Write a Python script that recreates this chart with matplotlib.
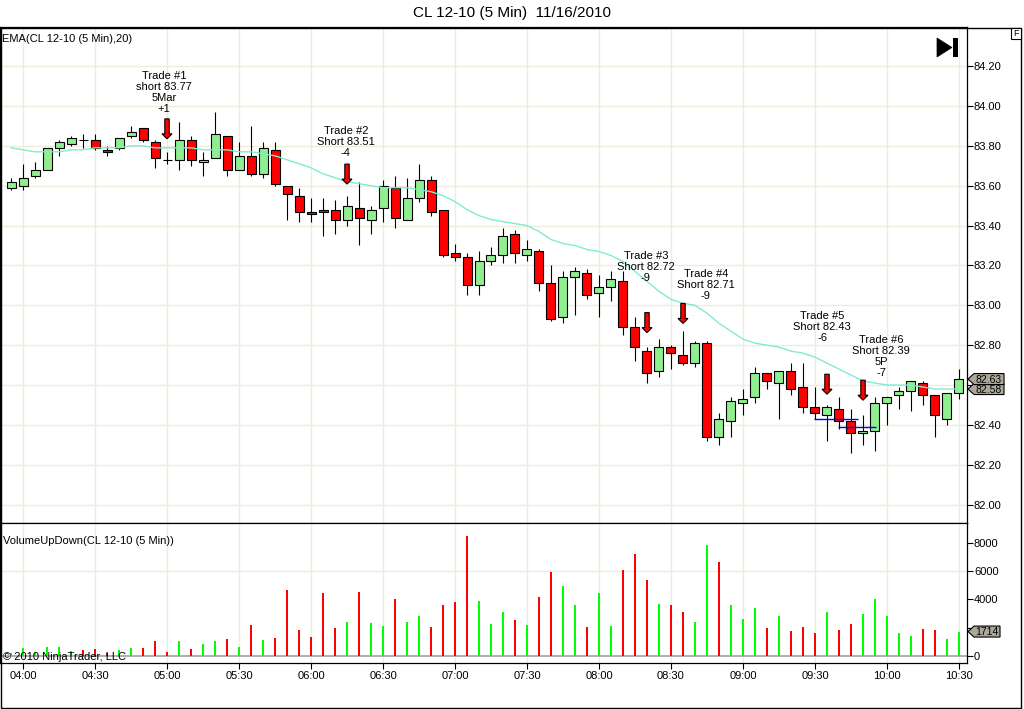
#!/usr/bin/env python3
"""CL 12-10 5 minute chart for 11/16/2010, NinjaTrader style: candles, EMA(20), volume up/down."""

import numpy as np
import matplotlib
matplotlib.use("Agg")
import matplotlib.pyplot as plt
from matplotlib.patches import Polygon, Rectangle
from matplotlib.transforms import IdentityTransform

# bar 0 is the 03:55 bar, one bar every 5 minutes up to 10:30
opens = [83.59, 83.60, 83.65, 83.68, 83.79, 83.81, 83.83, 83.83, 83.78, 83.79,
         83.85, 83.89, 83.82, 83.73, 83.73, 83.83, 83.72, 83.74, 83.85, 83.68,
         83.75, 83.66, 83.78, 83.60, 83.55, 83.47, 83.48, 83.48, 83.43, 83.49,
         83.43, 83.49, 83.59, 83.43, 83.54, 83.63, 83.48, 83.26, 83.24, 83.10,
         83.22, 83.25, 83.36, 83.25, 83.27, 83.11, 82.94, 83.14, 83.16, 83.06,
         83.09, 83.12, 82.89, 82.77, 82.67, 82.79, 82.75, 82.71, 82.81, 82.34,
         82.42, 82.51, 82.54, 82.66, 82.61, 82.67, 82.59, 82.49, 82.45, 82.48,
         82.42, 82.36, 82.37, 82.51, 82.55, 82.57, 82.61, 82.55, 82.43, 82.56]
highs = [83.64, 83.71, 83.72, 83.79, 83.83, 83.85, 83.86, 83.86, 83.80, 83.84,
         83.90, 83.89, 83.83, 83.77, 83.92, 83.85, 83.77, 83.97, 83.85, 83.82,
         83.90, 83.82, 83.82, 83.60, 83.59, 83.54, 83.54, 83.53, 83.55, 83.62,
         83.50, 83.63, 83.65, 83.64, 83.71, 83.65, 83.48, 83.31, 83.26, 83.27,
         83.29, 83.39, 83.38, 83.33, 83.28, 83.20, 83.17, 83.19, 83.18, 83.15,
         83.17, 83.17, 82.94, 82.79, 82.83, 82.80, 82.87, 82.82, 82.82, 82.46,
         82.54, 82.58, 82.69, 82.66, 82.67, 82.71, 82.71, 82.59, 82.50, 82.54,
         82.48, 82.45, 82.54, 82.54, 82.59, 82.62, 82.62, 82.55, 82.56, 82.68]
lows = [83.58, 83.58, 83.64, 83.68, 83.75, 83.80, 83.79, 83.78, 83.75, 83.78,
        83.84, 83.82, 83.69, 83.71, 83.68, 83.70, 83.65, 83.74, 83.65, 83.68,
        83.65, 83.64, 83.60, 83.43, 83.42, 83.42, 83.35, 83.36, 83.40, 83.30,
        83.36, 83.42, 83.39, 83.43, 83.52, 83.45, 83.24, 83.22, 83.05, 83.05,
        83.20, 83.21, 83.21, 83.22, 83.07, 82.92, 82.91, 82.95, 83.03, 82.94,
        83.02, 82.85, 82.72, 82.61, 82.64, 82.68, 82.70, 82.69, 82.32, 82.30,
        82.34, 82.45, 82.51, 82.58, 82.43, 82.55, 82.46, 82.43, 82.32, 82.38,
        82.26, 82.30, 82.27, 82.40, 82.48, 82.47, 82.50, 82.34, 82.40, 82.53]
closes = [83.62, 83.64, 83.68, 83.79, 83.82, 83.84, 83.83, 83.79, 83.77, 83.84,
          83.87, 83.83, 83.74, 83.73, 83.83, 83.73, 83.73, 83.86, 83.68, 83.75,
          83.66, 83.79, 83.61, 83.56, 83.47, 83.46, 83.47, 83.43, 83.50, 83.44,
          83.48, 83.60, 83.44, 83.54, 83.63, 83.47, 83.25, 83.24, 83.10, 83.22,
          83.25, 83.35, 83.26, 83.28, 83.11, 82.93, 83.14, 83.17, 83.05, 83.09,
          83.13, 82.89, 82.79, 82.66, 82.79, 82.76, 82.71, 82.81, 82.34, 82.43,
          82.52, 82.53, 82.66, 82.62, 82.67, 82.58, 82.49, 82.46, 82.49, 82.42,
          82.36, 82.37, 82.51, 82.54, 82.57, 82.62, 82.55, 82.45, 82.56, 82.63]
ema20 = [83.79, 83.78, 83.77, 83.77, 83.77, 83.78, 83.78, 83.79, 83.79, 83.79,
         83.80, 83.80, 83.79, 83.79, 83.79, 83.79, 83.78, 83.78, 83.78, 83.77,
         83.77, 83.76, 83.75, 83.73, 83.71, 83.69, 83.66, 83.64, 83.62, 83.61,
         83.60, 83.59, 83.59, 83.59, 83.58, 83.57, 83.55, 83.52, 83.48, 83.45,
         83.43, 83.42, 83.41, 83.40, 83.37, 83.33, 83.31, 83.30, 83.28, 83.27,
         83.25, 83.22, 83.17, 83.12, 83.07, 83.03, 83.01, 83.00, 82.96, 82.91,
         82.87, 82.83, 82.81, 82.80, 82.79, 82.77, 82.76, 82.74, 82.71, 82.68,
         82.65, 82.62, 82.61, 82.60, 82.60, 82.60, 82.59, 82.58, 82.58, 82.58]
volumes = [190, 540, 230, 610, 610, 330, 400, 470, 190, 400,
           540, 540, 1040, 260, 1040, 470, 830, 1040, 1180, 610,
           2180, 1110, 1250, 4660, 1820, 1320, 4450, 1960, 2390, 4520,
           2320, 2100, 4020, 2390, 2810, 2030, 3600, 3810, 8490, 3880,
           2250, 3100, 2530, 2180, 4160, 5940, 4940, 3600, 2030, 4450,
           2100, 6080, 7210, 5370, 3670, 3600, 3100, 2390, 7850, 6650,
           3600, 2600, 3380, 1960, 2810, 1750, 2030, 1610, 3100, 1820,
           2250, 2960, 4020, 2810, 1610, 1390, 1890, 1820, 1180, 1714]
# u = up volume (green), d = down volume (red)
volume_dir = list("uuuuuudddu" "uddduduudu" "duddddddud" "uuduuddddu"
                  "uududduudu" "udddudduud" "uuududddud" "duuuuudduu")
time_ticks = [1, 7, 13, 19, 25, 31, 37, 43, 49, 55, 61, 67, 73, 79]
time_labels = ["04:00", "04:30", "05:00", "05:30", "06:00", "06:30", "07:00",
               "07:30", "08:00", "08:30", "09:00", "09:30", "10:00", "10:30"]
price_ticks = [82.00, 82.20, 82.40, 82.60, 82.80, 83.00, 83.20, 83.40,
               83.60, 83.80, 84.00, 84.20]
volume_ticks = [0, 2000, 4000, 6000, 8000]

trade_bars = [13, 28, 53, 56, 68, 71]
trade_labels = ["Trade #1\nshort 83.77\n5Mar\n+1",
                "Trade #2\nShort 83.51\n-4",
                "Trade #3\nShort 82.72\n-9",
                "Trade #4\nShort 82.71\n-9",
                "Trade #5\nShort 82.43\n-6",
                "Trade #6\nShort 82.39\n5P\n-7"]
entry_prices = [82.43, 82.39]
entry_from = [66.9, 68.9]
entry_to = [70.6, 72.1]

# layout of the trade markers (arrow tip, text anchor)
arrow_tips = [83.835, 83.608, 82.863, 82.909, 82.554, 82.524]
text_x = [12.75, 27.9, 52.9, 57.9, 67.6, 72.5]
text_y = [83.96, 83.74, 83.11, 83.02, 82.81, 82.635]

W, H = 1024, 709
GRID = "#efecdc"
TAG = "#aca899"


def px_to_disp(x, y):
    """Pixel position measured from the top left corner -> display coords."""
    return x, H - y


def add_tag(fig, ax, value, text, width):
    """Grey price/volume marker sitting on the right axis."""
    y = ax.transData.transform((0, value))[1]
    x0 = ax.transAxes.transform((1, 0))[0]
    verts = [(x0 + 1, y), (x0 + 7, y + 5.5), (x0 + 7 + width, y + 5.5),
             (x0 + 7 + width, y - 5.5), (x0 + 7, y - 5.5)]
    fig.add_artist(Polygon(verts, closed=True, transform=IdentityTransform(),
                           fc=TAG, ec="black", lw=0.8, zorder=5))
    fig.text(x0 + 7 + width / 2, y - 0.5, text, transform=IdentityTransform(),
             ha="center", va="center", fontsize=7.5, zorder=6)


def draw_arrow(ax, bar, tip):
    """Red down arrow with its point at (bar, tip)."""
    x, y = ax.transData.transform((bar, tip))
    shape = [(0, 0), (5, 5), (2.2, 5), (2.2, 20), (-2.2, 20), (-2.2, 5), (-5, 5)]
    verts = [(x + dx, y + dy) for dx, dy in shape]
    ax.add_patch(Polygon(verts, closed=True, transform=IdentityTransform(),
                         fc="#ff0000", ec="black", lw=0.8, zorder=6))


def main():
    plt.rcParams["font.family"] = ["Liberation Sans", "DejaVu Sans"]
    fig = plt.figure(figsize=(W / 100, H / 100), dpi=100)

    ax_p = fig.add_axes([0, 1 - 523 / H, 967 / W, 496 / H])
    ax_v = fig.add_axes([0, 1 - 663 / H, 967 / W, 140 / H])

    o = np.array(opens)
    c = np.array(closes)
    bars = np.arange(len(c))

    # price panel
    ax_p.set_xlim(-0.917, 79.667)
    ax_p.set_ylim(81.908, 84.396)
    ax_p.set_axisbelow(True)
    ax_p.set_xticks(time_ticks)
    ax_p.set_yticks(price_ticks)
    # the 82.60 label sits under the price markers
    ax_p.set_yticklabels(["" if abs(t - 82.60) < 1e-6 else f"{t:.2f}" for t in price_ticks])
    ax_p.grid(True, color=GRID, lw=1)
    ax_p.yaxis.tick_right()
    ax_p.tick_params(axis="x", length=0, labelbottom=False)
    ax_p.tick_params(axis="y", direction="out", length=4, width=0.8,
                     labelsize=8, pad=1)

    body_col = np.where(c >= o, "#90ee90", "#ff0000")
    ax_p.vlines(bars, lows, highs, color="black", lw=0.8, zorder=2)
    ax_p.bar(bars, c - o, bottom=o, width=0.75, color=body_col,
             edgecolor="black", linewidth=0.8, zorder=3)
    ax_p.plot(bars, ema20, color="#80ecd0", lw=1, zorder=4)
    ax_p.hlines(entry_prices, entry_from, entry_to, color="#0000ff", lw=1, zorder=4.5)

    for bar, tip in zip(trade_bars, arrow_tips):
        draw_arrow(ax_p, bar, tip)
    for label, tx, ty in zip(trade_labels, text_x, text_y):
        ax_p.text(tx, ty, label, ha="center", va="bottom", fontsize=8,
                  linespacing=1.12, multialignment="center", zorder=6)

    # volume panel
    ax_v.set_xlim(-0.917, 79.667)
    ax_v.set_ylim(-518, 9420)
    ax_v.set_axisbelow(True)
    ax_v.set_xticks(time_ticks)
    ax_v.set_xticklabels(time_labels)
    ax_v.set_yticks(volume_ticks)
    # the 2000 label is hidden by the last-volume marker
    ax_v.set_yticklabels(["" if t == 2000 else str(t) for t in volume_ticks])
    ax_v.grid(True, axis="x", color=GRID, lw=1)
    ax_v.axhline(6000, color=GRID, lw=1, zorder=1)
    ax_v.axhline(0, color="#a0a0a0", lw=1.2, zorder=2)
    ax_v.yaxis.tick_right()
    ax_v.tick_params(axis="y", direction="out", length=4, width=0.8,
                     labelsize=8, pad=1)
    ax_v.tick_params(axis="x", direction="out", length=4, width=0.8,
                     labelsize=8, pad=2)
    vol_col = ["#00ff00" if d == "u" else "#ff0000" for d in volume_dir]
    ax_v.bar(bars, volumes, width=0.17, color=vol_col, zorder=3)

    for ax in (ax_p, ax_v):
        for sp in ax.spines.values():
            sp.set_linewidth(0.9)
            sp.set_color("black")

    # markers on the right axes
    add_tag(fig, ax_p, ema20[-1], f"{ema20[-1]:.2f}", 30)
    add_tag(fig, ax_p, closes[-1], f"{closes[-1]:.2f}", 30)
    add_tag(fig, ax_v, volumes[-1], str(volumes[-1]), 26)

    # window chrome
    idt = IdentityTransform()
    fig.add_artist(Rectangle(px_to_disp(0.5, 707.5), 1020, 680, fill=False,
                             ec="black", lw=1, transform=idt))
    fig.add_artist(Polygon([px_to_disp(937, 38), px_to_disp(937, 57),
                            px_to_disp(952, 47.5)], closed=True,
                           fc="black", ec="black", lw=0.5, transform=idt))
    fig.add_artist(Rectangle(px_to_disp(953, 57), 5, 19, fc="black",
                             ec="none", transform=idt))
    fig.add_artist(Rectangle(px_to_disp(1011, 39), 10, 11, fc="white",
                             ec="black", lw=0.8, transform=idt))
    fig.text(*px_to_disp(1016, 33.5), "F", transform=idt, ha="center",
             va="center", fontsize=6.5)

    fig.text(*px_to_disp(512, 13), "CL 12-10 (5 Min)  11/16/2010",
             transform=idt, ha="center", va="center", fontsize=11)
    fig.text(*px_to_disp(2, 39), "EMA(CL 12-10 (5 Min),20)", transform=idt,
             ha="left", va="center", fontsize=8)
    fig.text(*px_to_disp(3, 541), "VolumeUpDown(CL 12-10 (5 Min))",
             transform=idt, ha="left", va="center", fontsize=8)
    fig.text(*px_to_disp(3, 657), "\u00a9 2010 NinjaTrader, LLC",
             transform=idt, ha="left", va="center", fontsize=8, zorder=6)

    fig.savefig("out.png", dpi=100)


if __name__ == "__main__":
    main()
